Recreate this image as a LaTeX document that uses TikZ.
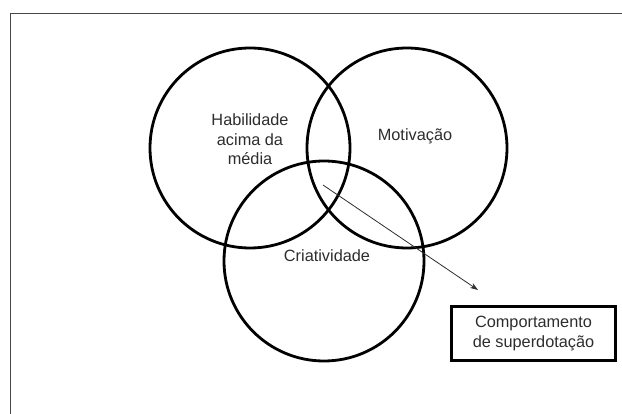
\documentclass[tikz,border=0pt]{standalone}
\usepackage{fontspec}
\setsansfont{Liberation Sans}
\definecolor{vnInk}  {RGB}{ 45,  45,  45}
\definecolor{vnFrame}{RGB}{ 70,  70,  70}
\usetikzlibrary{
  arrows.meta,
  positioning,
}

\begin{document}
\begin{tikzpicture}[
  x=1pt, y=-1pt,
  >={Stealth[length=8pt, width=5.5pt]},
  ring/.style={circle, draw, line width=2.8pt, minimum size=200pt, inner sep=0pt},
  lbl/.style={font=\fontsize{16.3}{19.5}\selectfont\sffamily, text=vnInk, align=center},
  outbox/.style={draw, line width=3pt, minimum width=164pt, minimum height=54pt, inner sep=0pt},
]
  % Page and frame
  \clip (0,0) rectangle (622,414);
  \draw[line width=1.2pt, color=vnFrame] (10.5,13.5) rectangle (700,500);

  % Circles
  \node[ring] (hab) at (250,148) {};
  \node[ring] (mot) at (407,148) {};
  \node[ring] (cri) at (324,261) {};

  % Labels
  \node[lbl] (habtxt) at (250,139.5) {Habilidade\\acima da\\média};
  \node[lbl] (mottxt) at (415,136) {Motivação};
  \node[lbl] (critxt) at (327,256) {Criatividade};

  % Result box
  \node[outbox, lbl] (sup) at (533.5,333.5) {Comportamento\\de superdotação};

  % Arrow
  \coordinate (core) at (323,185);
  \coordinate (tip) at (478,290);
  \draw[->, line width=0.8pt, color=vnInk] (core) -- (tip);

\end{tikzpicture}
\end{document}
